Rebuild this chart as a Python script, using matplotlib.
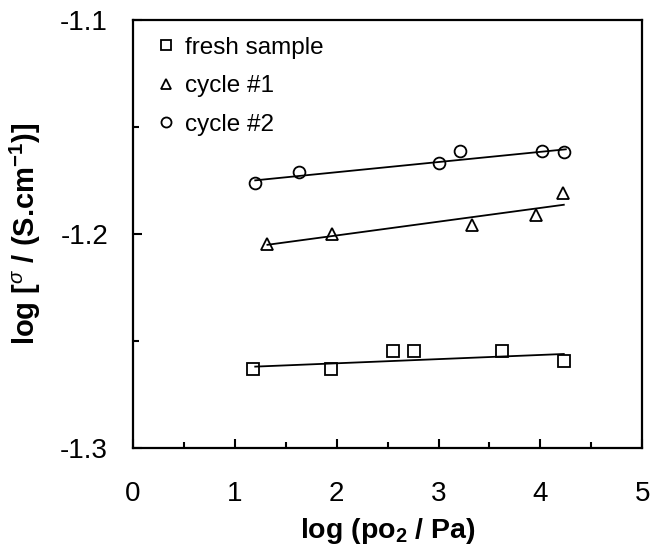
import numpy as np
import matplotlib
matplotlib.use("Agg")
import matplotlib.pyplot as plt
from matplotlib.ticker import MultipleLocator

plt.rcParams['font.family'] = ['Liberation Sans', 'DejaVu Sans']
plt.rcParams['mathtext.fontset'] = 'custom'
plt.rcParams['mathtext.rm'] = 'Liberation Sans'
plt.rcParams['mathtext.bf'] = 'Liberation Sans:bold'
plt.rcParams['mathtext.it'] = 'Liberation Sans:italic'
plt.rcParams['axes.unicode_minus'] = False

# data
fresh_x = [1.18, 1.94, 2.55, 2.76, 3.62, 4.23]
fresh_y = [-1.2631, -1.2631, -1.2548, -1.2548, -1.2548, -1.2592]
fresh_fit_x = [1.2, 4.23]
fresh_fit_y = [-1.2620, -1.2561]

cyc1_x = [1.32, 1.95, 3.33, 3.96, 4.22]
cyc1_y = [-1.2048, -1.2001, -1.1958, -1.1914, -1.1808]
cyc1_fit_x = [1.32, 4.23]
cyc1_fit_y = [-1.2051, -1.1864]

cyc2_x = [1.2, 1.63, 3.0, 3.21, 4.02, 4.23]
cyc2_y = [-1.1763, -1.1713, -1.1670, -1.1615, -1.1615, -1.1618]
cyc2_fit_x = [1.2, 4.25]
cyc2_fit_y = [-1.1750, -1.1605]

fig = plt.figure(figsize=(6.52, 5.49), dpi=100)
ax = fig.add_axes([0.204, 0.184, 0.781, 0.78])

ax.plot(fresh_x, fresh_y, 's', ms=8, mfc='white', mec='black', mew=1.3, label='fresh sample')
ax.plot(cyc1_x, cyc1_y, '^', ms=9, mfc='white', mec='black', mew=1.3, label='cycle #1')
ax.plot(cyc2_x, cyc2_y, 'o', ms=8.5, mfc='white', mec='black', mew=1.3, label='cycle #2')
ax.plot(fresh_fit_x, fresh_fit_y, '-', color='black', lw=1.3)
ax.plot(cyc1_fit_x, cyc1_fit_y, '-', color='black', lw=1.3)
ax.plot(cyc2_fit_x, cyc2_fit_y, '-', color='black', lw=1.3)

ax.set_xlim(0, 5)
ax.set_ylim(-1.3, -1.1)
ax.xaxis.set_major_locator(MultipleLocator(1))
ax.xaxis.set_minor_locator(MultipleLocator(0.5))
ax.yaxis.set_major_locator(MultipleLocator(0.1))
ax.yaxis.set_minor_locator(MultipleLocator(0.05))
ax.tick_params(which='both', direction='in', width=1.5, top=False, right=False, labelsize=20)
ax.tick_params(which='major', length=6.5)
ax.tick_params(which='minor', length=4)
ax.tick_params(axis='x', pad=24)
ax.tick_params(axis='y', pad=18)
for s in ax.spines.values():
    s.set_linewidth(1.6)

ax.set_xlabel(r'log (po$_\mathbf{2}$ / Pa)', fontsize=20.5, fontweight='bold', labelpad=6)
ax.set_ylabel(r'log [$^{\sigma}$ / (S.cm$^{\mathbf{-1}}$)]', fontsize=21, fontweight='bold', labelpad=12)

leg = ax.legend(loc='upper left', frameon=False, fontsize=17.5, markerscale=0.85,
                handlelength=0.6, handletextpad=0.45, labelspacing=0.68,
                borderaxespad=0.3, bbox_to_anchor=(0.018, 1.0))

fig.savefig('out.png', dpi=100)
